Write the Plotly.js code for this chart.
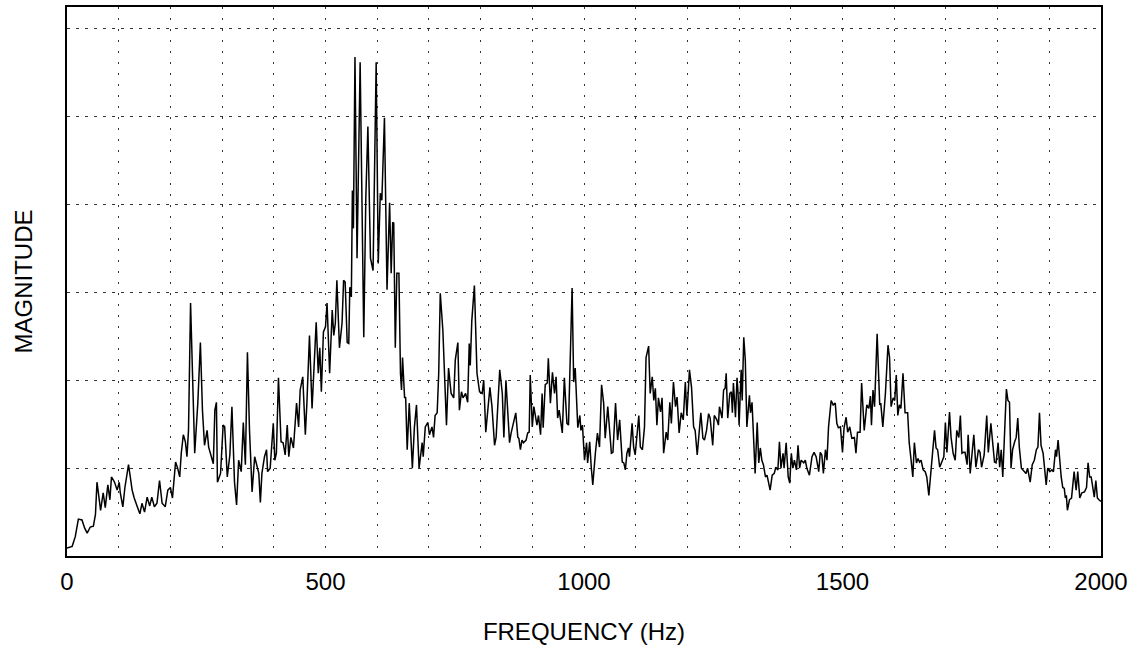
<!DOCTYPE html>
<html>
<head>
<meta charset="utf-8">
<script src="https://cdn.plot.ly/plotly-3.0.1.min.js"></script>
<style>html,body{margin:0;padding:0;background:#fff;}#chart{width:1137px;height:648px;}</style>
</head>
<body>
<div id="chart"></div>
<script>
const freqHz = [0,10,16,22,29,34,39,45,51,55,58,65,70,74,79,83,86,92,97,101,103,108,112,119,126,130,136,141,145,150,155,160,164,169,174,179,184,190,195,200,204,210,214,218,221,225,229,232,235,239,247,
253,258,262,266,271,274,277,283,286,289,291,297,302,305,310,315,319,324,328,332,337,341,345,349,353,358,363,368,371,374,377,382,386,388,393,399,402,405,409,414,418,422,426,429,433,438,444,448,451,456,461,464,469,474,477,482,486,489,492,496,
500,503,508,513,516,519,522,527,532,535,538,542,545,547,550,552,554,557,561,567,574,578,582,587,592,598,602,606,609,614,619,624,627,630,632,635,638,642,645,647,649,653,655,658,662,668,672,676,681,687,689,693,698,701,706,709,712,716,719,722,727,730,734,738,743,748,
751,756,759,763,766,771,775,778,780,783,788,793,798,803,806,810,814,818,822,827,830,834,837,842,845,849,852,856,859,863,868,872,874,877,880,883,888,891,894,896,900,903,906,909,912,916,919,921,925,929,931,935,939,943,946,949,952,958,962,967,970,977,980,983,988,992,994,997,1001,
1005,1007,1011,1014,1017,1022,1026,1030,1034,1038,1041,1046,1050,1053,1056,1061,1065,1069,1074,1077,1080,1083,1086,1088,1093,1096,1099,1103,1106,1109,1113,1117,1120,1125,1128,1132,1135,1138,1141,1144,1148,1151,1154,1159,1162,1166,1169,1173,1177,1180,1184,1188,1192,1196,1199,1204,1208,1212,1215,1219,1222,1226,1230,1233,1237,1241,1244,1249,1252,
1257,1260,1262,1267,1270,1273,1275,1278,1282,1285,1287,1289,1293,1296,1298,1300,1304,1306,1309,1312,1315,1320,1322,1325,1328,1331,1335,1338,1341,1344,1347,1351,1354,1357,1360,1364,1368,1371,1375,1378,1381,1385,1387,1391,1395,1398,1401,1404,1407,1411,1414,1417,1420,1425,1428,1431,1436,1441,1445,1449,1454,1457,1460,1463,1467,1470,1473,1478,1482,1486,1489,1492,1496,1500,1503,
1507,1510,1514,1518,1523,1526,1529,1534,1537,1542,1547,1551,1554,1556,1559,1562,1567,1572,1574,1578,1583,1588,1591,1594,1598,1601,1604,1607,1610,1613,1617,1621,1626,1629,1632,1636,1639,1643,1646,1649,1652,1656,1660,1663,1667,1671,1675,1678,1681,1684,1688,1692,1696,1699,1702,1707,1710,1714,1718,1721,1725,1728,1731,1734,1737,1741,1743,1747,1750,1754,
1758,1763,1766,1769,1774,1779,1782,1787,1790,1794,1797,1801,1804,1807,1810,1814,1817,1820,1823,1826,1829,1833,1836,1839,1842,1846,1849,1852,1855,1858,1861,1863,1867,1871,1875,1878,1881,1884,1888,1891,1894,1897,1901,1905,1908,1912,1914,1917,1920,1923,1926,1929,1931,1933,1935,1939,1943,1946,1948,1952,1955,1959,1963,1968,1972,1975,1978,1981,1985,1987,1990,1993,1996,2000];

const magnitude = [0.09,0.11,0.22,0.42,0.41,0.32,0.26,0.33,0.34,0.47,0.84,0.52,0.72,0.55,0.81,0.64,0.90,0.84,0.75,0.84,0.72,0.56,0.78,1.04,0.75,0.66,0.56,0.48,0.60,0.50,0.67,0.57,0.67,0.56,0.60,0.86,0.60,0.56,0.75,0.78,0.66,1.07,1.00,0.90,1.17,1.38,1.30,1.13,1.43,2.88,1.17,
1.74,2.43,1.66,1.26,1.43,1.24,1.18,1.05,1.66,1.75,0.84,0.94,1.49,1.47,0.90,1.15,1.70,0.84,0.58,1.09,0.96,1.52,1.04,2.32,1.43,0.73,1.13,1.00,0.94,0.61,0.94,1.13,1.21,0.96,1.00,1.51,1.09,1.17,2.03,1.30,1.29,1.15,1.49,1.13,1.35,1.23,1.74,1.47,1.89,2.04,1.38,1.74,2.51,1.68,2.08,2.66,2.08,2.37,1.87,2.55,
2.61,2.88,2.08,2.80,2.51,2.65,3.14,2.37,2.65,3.14,3.12,2.43,2.42,3.06,2.95,4.16,3.73,5.68,3.39,5.62,2.49,4.08,4.89,3.39,3.25,5.62,3.33,4.13,4.05,4.99,3.03,4.02,3.22,3.80,3.79,2.37,3.22,3.22,2.08,1.89,2.26,1.80,1.81,1.21,1.74,1.00,1.47,1.72,1.00,1.29,1.13,1.47,1.52,1.38,1.47,1.35,1.60,1.63,2.08,2.99,2.57,2.08,1.49,2.14,1.85,1.80,
2.23,2.43,1.66,1.87,1.80,1.85,1.75,2.42,2.17,2.68,3.08,2.08,1.87,1.85,2.00,1.41,1.70,1.92,1.70,1.26,1.35,1.85,2.12,1.85,1.35,2.00,1.70,1.29,1.40,1.51,1.63,1.35,1.34,1.21,1.32,1.29,1.32,1.40,1.41,2.06,1.47,1.70,1.60,1.49,1.60,1.38,1.85,1.46,1.95,1.97,2.25,1.74,2.09,1.85,2.04,1.57,1.66,1.40,2.03,1.51,1.49,3.05,1.98,2.14,1.46,1.60,1.43,1.49,1.09,
1.29,1.06,1.30,1.01,0.81,1.17,1.40,1.24,1.95,1.74,1.34,1.70,1.35,1.17,1.18,1.74,1.32,1.55,1.07,1.06,0.98,1.17,1.23,1.13,1.51,1.24,1.15,1.47,1.60,1.24,1.21,1.47,2.26,2.39,1.85,2.04,1.77,1.91,1.49,1.80,1.64,1.80,1.17,1.41,1.32,1.75,1.51,1.98,1.70,1.81,1.40,1.63,1.55,1.98,1.60,2.12,1.92,1.47,1.43,1.15,1.35,1.63,1.34,1.32,1.43,1.62,1.57,1.26,1.60,
1.55,1.49,1.70,1.57,1.89,1.91,2.08,1.57,1.85,1.87,1.63,1.97,1.58,2.03,1.85,1.49,2.12,1.77,2.49,2.23,1.47,1.83,1.63,1.75,1.30,0.94,1.52,1.06,1.23,1.09,1.04,0.90,0.92,0.84,0.75,0.92,0.94,1.01,0.98,1.30,1.00,1.17,1.00,1.29,0.90,0.83,1.17,1.00,1.09,0.98,1.26,1.00,1.09,1.06,1.09,1.00,0.92,1.13,1.18,1.13,0.96,1.18,1.15,0.94,1.21,1.09,1.47,1.77,1.72,1.74,1.51,1.46,1.47,1.18,1.46,
1.58,1.41,1.47,1.34,1.35,1.17,1.41,1.41,1.97,1.43,1.72,1.68,1.82,1.49,1.89,1.70,2.53,1.72,1.74,1.47,1.85,2.40,2.26,1.70,1.80,1.77,2.06,1.60,1.72,1.68,2.08,1.63,1.63,1.29,1.13,0.90,1.29,1.06,1.11,1.07,1.09,0.98,0.96,0.90,0.69,1.00,1.24,1.43,1.23,1.21,1.01,1.07,1.13,1.52,1.18,1.64,1.35,1.17,1.09,1.43,1.35,1.60,1.17,1.18,1.18,1.04,1.38,0.94,1.13,1.38,
1.01,1.21,1.18,1.01,1.15,1.60,1.18,1.51,1.32,1.07,1.06,1.29,1.01,1.21,0.90,1.47,1.90,1.77,1.75,1.00,1.21,1.30,1.35,1.57,1.24,1.00,0.98,0.96,0.94,1.00,0.90,0.84,1.04,1.09,1.21,1.24,1.63,1.26,1.17,0.98,0.81,1.00,0.96,0.98,0.96,1.21,1.13,1.32,1.07,0.90,0.78,0.77,0.66,0.69,0.52,0.64,0.66,0.81,0.96,0.75,0.96,0.66,0.72,0.73,0.78,1.06,0.90,0.90,0.75,0.67,0.86,0.66,0.64,0.62];

const gridFreqs = [0,100,200,300,400,500,600,700,800,900,1000,1100,1200,1300,1400,1500,1600,1700,1800,1900,2000];
const labeledFreqs = [0,500,1000,1500,2000];
const tickLabels = gridFreqs.map(v => labeledFreqs.includes(v) ? String(v) : '');

const fontFamily = '"Liberation Sans", Arial, Helvetica, sans-serif';

Plotly.newPlot('chart', [{
  x: freqHz,
  y: magnitude,
  type: 'scatter',
  mode: 'lines',
  line: {color: '#000000', width: 1.5},
  hoverinfo: 'x+y'
}], {
  width: 1137,
  height: 648,
  margin: {l: 67, r: 36, t: 7, b: 92},
  paper_bgcolor: '#ffffff',
  plot_bgcolor: '#ffffff',
  showlegend: false,
  font: {family: fontFamily, size: 24, color: '#000000'},
  xaxis: {
    range: [0, 2000],
    tickmode: 'array',
    tickvals: gridFreqs,
    ticktext: tickLabels,
    ticks: 'outside',
    ticklen: 3,
    tickcolor: 'rgba(0,0,0,0)',
    tickfont: {family: fontFamily, size: 24, color: '#000000'},
    showgrid: true,
    gridcolor: '#333333',
    gridwidth: 1,
    griddash: '2px,9px',
    zeroline: false,
    showline: true,
    mirror: true,
    linecolor: '#000000',
    linewidth: 2,
    title: {text: 'FREQUENCY (Hz)', font: {family: fontFamily, size: 24, color: '#000000'}, standoff: 29}
  },
  yaxis: {
    range: [0, 6.25],
    dtick: 1,
    tick0: 0,
    showticklabels: false,
    ticks: '',
    showgrid: true,
    gridcolor: '#333333',
    gridwidth: 1,
    griddash: '3px,6px',
    zeroline: false,
    showline: true,
    mirror: true,
    linecolor: '#000000',
    linewidth: 2,
    title: {text: 'MAGNITUDE', font: {family: fontFamily, size: 24, color: '#000000'}, standoff: 26}
  }
}, {displayModeBar: false, staticPlot: true});
</script>
</body>
</html>
